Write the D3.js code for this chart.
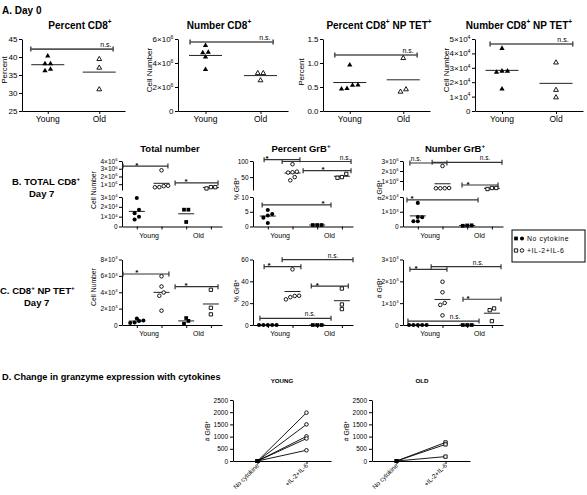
<!DOCTYPE html>
<html><head><meta charset="utf-8">
<script src="https://cdn.jsdelivr.net/npm/d3@7"></script>
<style>body{margin:0;background:#fff}svg{display:block}</style>
</head><body><svg id="c" width="587" height="495"></svg>
<script>
// ---------------- DATA ----------------
const agesA = ["Young", "Old"];
const groupsBC = ["Young", "Young", "Old", "Old"];
const conditions = ["No cytokine", "+IL-2+IL-6"];

// Panel A (Day 0): [young, old]
const pctCD8Day0 = [[40.3, 38.1, 38.1, 36.6, 36.2], [39.4, 37.0, 31.0]];
const numCD8Day0 = [[5.45e6, 4.85e6, 4.9e6, 4.5e6, 3.45e6], [3.15e6, 3.15e6, 2.55e6]];
const pctTetDay0 = [[0.96, 0.535, 0.46, 0.47, 0.54], [1.10, 0.40, 0.45]];
const numTetDay0 = [[4.35e4, 2.77e4, 2.69e4, 2.77e4, 1.53e4], [3.36e4, 1.46e4, 0.94e4]];

// Panels B, C (Day 7): [young none, young IL, old none, old IL]
const totalNumB = [[2.9e4, 1.71e4, 1.36e4, 1.0e4, 0.72e4], [2.8e6, 0.75e6, 0.62e6, 0.6e6, 0.8e6], [1.71e4, 1.71e4, 0.46e4], [0.62e6, 0.45e6, 0.62e6]];
const pctGrbB = [[5.6, 4.2, 3.7, 3.0, 1.2], [90, 64, 65, 67, 50, 40], [0.5, 0.5, 0.5], [60, 48, 50]];
const numGrbB = [[1.6e3, 0.63e3, 0.36e3, 0.36e3, 0.65e3], [2.5e6, 0.27e6, 0.27e6, 0.28e6, 0.3e6], [70, 50, 80], [0.3e6, 0.2e6, 0.3e6]];
const numTetC = [[0.8e3, 0.55e3, 0.3e3, 0.25e3, 0.5e3], [5.95e3, 4.7e3, 3.97e3, 3.57e3, 1.75e3], [0.85e3, 0.5e3, 0.15e3], [4.3e3, 2.1e3, 1.3e3]];
const pctGrbC = [[0, 0, 0, 0, 0], [51, 23.5, 25.5, 26.6, 26.8], [0, 0, 0], [33.4, 14.6, 18.8]];
const numGrbC = [[0, 0, 0, 0, 0], [1.98e3, 1.5e3, 1.01e3, 0.92e3, 0.44e3], [0, 0, 0], [0.76e3, 0.68e3, 0.18e3]];

// Panel D (paired, # GrB+)
const youngNoCyt = [0, 0, 0, 0, 0];
const youngIL = [1980, 1500, 1010, 920, 440];
const oldNoCyt = [0, 0, 0];
const oldIL = [760, 680, 180];

// Tick values
const ticksA1 = [25, 30, 35, 40, 45];
const ticksA2 = [0, 2e6, 4e6, 6e6];
const ticksA3 = [0, 0.5, 1.0, 1.5];
const ticksA4 = [0, 1e4, 2e4, 3e4, 4e4, 5e4];
const ticksB1Low = [0, 1e4, 2e4, 3e4], ticksB1Up = [1e6, 2e6, 3e6, 4e6];
const ticksB2Low = [0, 5, 10], ticksB2Up = [50, 100];
const ticksB3Low = [0, 1e3, 2e3], ticksB3Up = [1e6, 2e6, 3e6];
const ticksC1 = [0, 2e3, 4e3, 6e3, 8e3];
const ticksC2 = [0, 20, 40, 60];
const ticksC3 = [0, 1e3, 2e3, 3e3];
const ticksD = [0, 500, 1000, 1500, 2000, 2500];

// Significance brackets: [from group, to group, level (data units), label, label at group]
const sigA1 = [[-0.33, 1.27, 42.2, "n.s.", 1.13]];
const sigA2 = [[-0.28, 1.23, 5.75e6, "n.s.", 1.08]];
const sigA3 = [[-0.28, 1.26, 1.167, "n.s.", 1.09]];
const sigA4 = [[-0.22, 1.31, 4.65e4, "n.s.", 1.13]];
const sigB1 = [[-0.56, 1.26, 3.35e6, "*", 0], [1.55, 3.29, 1.16e6, "*", 1.99]];
const sigB2 = [[-0.15, 1.30, 104, "*", -0.03], [0.58, 3.37, 98.4, "n.s.", 3.13], [1.43, 3.37, 69.9, "*", 2.24], [-0.23, 2.56, 7.3, "*", 2.24]];
const sigB3 = [[-0.32, 1.18, 2.8e6, "n.s.", -0.07], [0.58, 3.41, 2.87e6, "n.s.", 2.72], [1.79, 3.25, 0.6e6, "*", 2.03], [-0.44, 2.44, 1.8e3, "*", -0.23]];
const sigC1 = [[-0.56, 1.30, 6.23e3, "*", 0], [1.55, 3.29, 4.68e3, "*", 1.99]];
const sigC2 = [[-0.15, 1.34, 53.4, "*", 0.05], [0.58, 3.45, 59.8, "n.s.", 2.64], [1.76, 3.26, 35.7, "*", 2.0], [-0.32, 2.56, 6.1, "n.s.", 1.71]];
const sigC3 = [[-0.32, 1.18, 2.55e3, "*", -0.07], [0.54, 3.37, 2.67e3, "n.s.", 2.44], [1.83, 3.37, 1.18e3, "*", 2.03], [-0.4, 2.48, 0.18e3, "n.s.", 1.51]];

// ---------------- DRAWING ----------------
const FONT = "'Liberation Sans', Arial, Helvetica, sans-serif";
const svg = d3.select("#c").attr("font-family", FONT);

function rich(sel, str, size) {
  const re = /\^(\{[^}]*\}|.)/g;
  let last = 0, m; const pieces = [];
  while ((m = re.exec(str))) {
    if (m.index > last) pieces.push({t: str.slice(last, m.index), sup: false});
    let t = m[1]; if (t[0] === "{") t = t.slice(1, -1);
    pieces.push({t, sup: true});
    last = re.lastIndex;
  }
  if (last < str.length) pieces.push({t: str.slice(last), sup: false});
  let shifted = false;
  pieces.forEach(p => {
    const ts = sel.append("tspan").text(p.t);
    if (p.sup) {
      ts.attr("font-size", size * 0.65);
      if (!shifted) { ts.attr("dy", -size * 0.42); shifted = true; }
    } else if (shifted) { ts.attr("dy", size * 0.42); shifted = false; }
  });
  return sel;
}
function text(g, x, y, str, size, opts = {}) {
  const t = g.append("text").attr("x", x).attr("y", y).attr("font-size", size)
    .attr("text-anchor", opts.anchor || "start").attr("font-weight", opts.bold ? "bold" : null)
    .attr("letter-spacing", opts.ls || null).attr("fill", "#000");
  return rich(t, str, size);
}
function vlabel(g, x, y, str, size) {
  const t = g.append("text").attr("transform", `translate(${x},${y}) rotate(-90)`)
    .attr("text-anchor", "middle").attr("dy", "0.35em").attr("font-size", size);
  return rich(t, str, size);
}
function sci(v) {
  if (v === 0) return "0";
  const e = Math.floor(Math.log10(v) + 1e-9);
  const mant = Math.round(v / Math.pow(10, e) * 10) / 10;
  return `${mant}×10^${e}`;
}
const plain = v => String(v);
const dec1 = v => v.toFixed(1);

function styleAxis(ag, size) {
  ag.attr("font-family", FONT).attr("font-size", size);
  ag.select(".domain").attr("stroke", "#000").attr("stroke-width", 1);
  ag.selectAll(".tick line").attr("stroke", "#000");
  ag.selectAll(".tick text").attr("fill", "#000");
}

const MARK = {
  triFilled: {type: d3.symbolTriangle, size: 12, fill: "#000", stroke: "none"},
  triOpen: {type: d3.symbolTriangle, size: 10, fill: "#fff", stroke: "#000"},
  circFilled: {type: d3.symbolCircle, size: 13, fill: "#000", stroke: "none"},
  circOpen: {type: d3.symbolCircle, size: 10, fill: "#fff", stroke: "#000"},
  sqFilled: {type: d3.symbolSquare, size: 14, fill: "#000", stroke: "none"},
  sqOpen: {type: d3.symbolSquare, size: 11, fill: "#fff", stroke: "#000"}
};
function drawMark(g, x, y, kind) {
  const m = MARK[kind];
  g.append("path").attr("d", d3.symbol().type(m.type).size(m.size)())
    .attr("transform", `translate(${x},${y})`)
    .attr("fill", m.fill).attr("stroke", m.stroke).attr("stroke-width", 0.9);
}

function spread(vals, yMap, d, thr) {
  const idx = vals.map((v, i) => i).sort((a, b) => vals[a] - vals[b]);
  const out = new Array(vals.length);
  let row = [];
  const flush = () => { row.forEach((i, k) => out[i] = (k - (row.length - 1) / 2) * d); row = []; };
  idx.forEach(i => {
    if (row.length && Math.abs(yMap(vals[i]) - yMap(vals[row[0]])) >= thr) flush();
    row.push(i);
  });
  flush();
  return out;
}

function dotPlot(o) {
  const g = svg.append("g");
  const x = d3.scaleLinear().domain(o.xDomain).range(o.xRange);
  const segs = o.segments.map(s => Object.assign({}, s, {scale: d3.scaleLinear().domain(s.domain).range(s.range)}));
  const yMap = v => (segs.length > 1 && v > segs[0].domain[1] ? segs[1] : segs[0]).scale(v);
  segs.forEach(s => {
    const ag = g.append("g").attr("transform", `translate(${o.xRange[0]},0)`)
      .call(d3.axisLeft(s.scale).tickValues(s.ticks).tickSize(3).tickSizeOuter(0).tickPadding(1.5));
    styleAxis(ag, o.tickFont);
    ag.selectAll(".tick text").each(function(d) { const t = d3.select(this); t.text(null); rich(t, s.fmt(d), o.tickFont); });
  });
  const bottom = segs[0].range[0];
  const xa = g.append("g").attr("transform", `translate(0,${bottom})`)
    .call(d3.axisBottom(x).tickValues(o.data.map((_, i) => i)).tickSize(3).tickSizeOuter(0).tickFormat(""));
  styleAxis(xa, o.tickFont);
  o.catLabels.forEach(c => text(g, x(c.at), o.catY, c.text, o.catFont, {anchor: "middle"}));
  vlabel(g, o.yLabel[1], o.yLabel[2], o.yLabel[0], o.yLabelFont);
  if (o.title) text(g, o.title[1], o.title[2], o.title[0], o.titleFont, {anchor: "middle", bold: true});
  o.sig.forEach(([a, b, lv, lab, at]) => {
    const y = yMap(lv), x1 = x(a), x2 = x(b);
    const p = d3.path();
    p.moveTo(x1, y - 2.5); p.lineTo(x1, y + 2.5);
    p.moveTo(x1, y); p.lineTo(x2, y);
    p.moveTo(x2, y - 2.5); p.lineTo(x2, y + 2.5);
    g.append("path").attr("d", p.toString()).attr("stroke", o.sigColor).attr("stroke-width", o.sigWidth).attr("fill", "none");
    const isStar = lab === "*";
    g.append("text").attr("x", x(at)).attr("y", isStar ? y + o.starDy : y - 2).attr("text-anchor", "middle")
      .attr("font-size", isStar ? o.starFont : o.nsFont).attr("font-weight", isStar ? "bold" : null).text(lab);
  });
  o.data.forEach((vals, i) => {
    const m = d3.mean(vals), y = yMap(m);
    g.append("line").attr("x1", x(i) - o.meanHalf).attr("x2", x(i) + o.meanHalf)
      .attr("y1", y).attr("y2", y).attr("stroke", "#222").attr("stroke-width", 1);
  });
  o.data.forEach((vals, i) => {
    const dx = spread(vals, yMap, o.jitter, 4);
    vals.forEach((v, k) => drawMark(g, x(i) + dx[k], yMap(v), o.marks[i]));
  });
}

// ---- Panel A ----
text(svg, 2, 14, "A. Day 0", 10, {bold: true});
const aCommon = {
  xDomain: [-0.5, 1.5], tickFont: 8, catFont: 8.5, catY: 122, yLabelFont: 8, titleFont: 10,
  marks: ["triFilled", "triOpen"], meanHalf: 16.5, jitter: 5.5,
  sigColor: "#555", sigWidth: 1.6, nsFont: 7, starFont: 9, starDy: 0,
  catLabels: [{text: agesA[0], at: 0}, {text: agesA[1], at: 1}]
};
dotPlot(Object.assign({}, aCommon, {
  xRange: [22, 125], segments: [{domain: [25, 45], range: [111, 39], ticks: ticksA1, fmt: plain}],
  data: pctCD8Day0, yLabel: ["Percent", 4, 70], title: ["Percent CD8^+", 80, 28.5], sig: sigA1
}));
dotPlot(Object.assign({}, aCommon, {
  xRange: [178, 288], segments: [{domain: [0, 6e6], range: [111, 39], ticks: ticksA2, fmt: sci}],
  data: numCD8Day0, yLabel: ["Cell Number", 149, 70], title: ["Number CD8^+", 219, 28.5], sig: sigA2
}));
dotPlot(Object.assign({}, aCommon, {
  xRange: [323, 430], segments: [{domain: [0, 1.5], range: [111, 39], ticks: ticksA3, fmt: dec1}],
  data: pctTetDay0, yLabel: ["Percent", 301, 72], title: ["Percent CD8^+ NP TET^+", 379, 28.5], sig: sigA3
}));
dotPlot(Object.assign({}, aCommon, {
  xRange: [475, 583], segments: [{domain: [0, 5e4], range: [111, 39], ticks: ticksA4, fmt: sci}],
  data: numTetDay0, yLabel: ["Cell Number", 446, 70], title: ["Number CD8^+ NP TET^+", 519, 28.5], sig: sigA4
}));

// ---- Panels B, C ----
const bcCommon = {
  xDomain: [-0.6, 3.45], tickFont: 6.5, catFont: 7, yLabelFont: 6.8, titleFont: 9.5,
  marks: ["circFilled", "circOpen", "sqFilled", "sqOpen"], meanHalf: 8, jitter: 4.4,
  sigColor: "#333", sigWidth: 1.2, nsFont: 6.5, starFont: 8, starDy: 1.5,
  catLabels: [{text: groupsBC[0], at: 0.5}, {text: groupsBC[2], at: 2.5}]
};
text(svg, 12, 185, "B. TOTAL CD8^+", 9.5, {bold: true});
text(svg, 29, 197, "Day 7", 9.5, {bold: true});
dotPlot(Object.assign({}, bcCommon, {
  xRange: [122, 222], catY: 237.5,
  segments: [{domain: [0, 3e4], range: [226.5, 197], ticks: ticksB1Low, fmt: sci},
             {domain: [0.25e6, 4e6], range: [190, 161], ticks: ticksB1Up, fmt: sci}],
  data: totalNumB, yLabel: ["Cell Number", 94, 190], title: ["Total number", 170, 151.5], sig: sigB1
}));
dotPlot(Object.assign({}, bcCommon, {
  xRange: [253, 353], catY: 237.5,
  segments: [{domain: [0, 10], range: [226.5, 197], ticks: ticksB2Low, fmt: plain},
             {domain: [10, 100], range: [190, 161], ticks: ticksB2Up, fmt: plain}],
  data: pctGrbB, yLabel: ["% GrB^+", 237, 189], title: ["Percent GrB^+", 301, 151.5], sig: sigB2
}));
dotPlot(Object.assign({}, bcCommon, {
  xRange: [403, 503], catY: 237.5,
  segments: [{domain: [0, 2e3], range: [226.5, 197], ticks: ticksB3Low, fmt: sci},
             {domain: [0.1e6, 3e6], range: [190, 161], ticks: ticksB3Up, fmt: sci}],
  data: numGrbB, yLabel: ["# GrB^+", 380, 190], title: ["Number GrB^+", 455, 151.5], sig: sigB3
}));

text(svg, 0, 294, "C. CD8^+ NP TET^+", 9.5, {bold: true});
text(svg, 24, 306, "Day 7", 9.5, {bold: true});
dotPlot(Object.assign({}, bcCommon, {
  xRange: [122, 222], catY: 335.5,
  segments: [{domain: [0, 8e3], range: [325, 259.5], ticks: ticksC1, fmt: sci}],
  data: numTetC, yLabel: ["Cell Number", 94, 287], sig: sigC1
}));
dotPlot(Object.assign({}, bcCommon, {
  xRange: [253, 353], catY: 335.5,
  segments: [{domain: [0, 60], range: [325, 259.5], ticks: ticksC2, fmt: plain}],
  data: pctGrbC, yLabel: ["% GrB^+", 237, 291], sig: sigC2
}));
dotPlot(Object.assign({}, bcCommon, {
  xRange: [403, 503], catY: 335.5,
  segments: [{domain: [0, 3e3], range: [325, 259.5], ticks: ticksC3, fmt: sci}],
  data: numGrbC, yLabel: ["# GrB^+", 380, 288], sig: sigC3
}));

// ---- Legend ----
{
  const g = svg.append("g");
  g.append("rect").attr("x", 512).attr("y", 230).attr("width", 73).attr("height", 32)
    .attr("fill", "#fff").attr("stroke", "#000").attr("stroke-width", 1);
  drawMark(g, 516, 238.5, "sqFilled"); drawMark(g, 522, 238.5, "circFilled");
  text(g, 527, 241, conditions[0], 6.8, {ls: 0.6});
  drawMark(g, 516, 250.5, "sqOpen"); drawMark(g, 522, 250.5, "circOpen");
  text(g, 527, 253, conditions[1], 6.8, {ls: 0.6});
}

// ---- Panel D ----
text(svg, 2, 379.5, "D. Change in granzyme expression with cytokines", 9.2, {bold: true});
function pairedPlot(o) {
  const g = svg.append("g");
  const x = d3.scaleLinear().domain([-0.5, 1.5]).range(o.xRange);
  const y = d3.scaleLinear().domain([0, 2500]).range([461, 400]);
  const ya = g.append("g").attr("transform", `translate(${o.xRange[0]},0)`)
    .call(d3.axisLeft(y).tickValues(ticksD).tickSize(3).tickSizeOuter(0).tickPadding(2).tickFormat(d3.format("d")));
  styleAxis(ya, 6.5);
  const xa = g.append("g").attr("transform", `translate(0,461)`)
    .call(d3.axisBottom(x).tickValues([0, 1]).tickSize(3).tickSizeOuter(0).tickFormat(""));
  styleAxis(xa, 6.5);
  conditions.forEach((c, i) => {
    g.append("text").attr("transform", `translate(${x(i) + 2},${466}) rotate(-45)`)
      .attr("text-anchor", "end").attr("font-size", 6.4).text(c);
  });
  vlabel(g, o.yLabelX, 431, "# GrB^+", 6.8);
  text(g, o.titleX, 383, o.title, 6.2, {anchor: "middle", bold: true});
  const line = d3.line().x(d => x(d[0])).y(d => y(d[1]));
  o.before.forEach((b, i) => {
    g.append("path").attr("d", line([[0, b], [1, o.after[i]]])).attr("stroke", "#000").attr("stroke-width", 0.9).attr("fill", "none");
  });
  o.before.forEach(b => drawMark(g, x(0), y(b), "sqFilled"));
  o.after.forEach(a => drawMark(g, x(1), y(a), o.endMark));
}
pairedPlot({xRange: [233, 331], before: youngNoCyt, after: youngIL, endMark: "circOpen", yLabelX: 208, titleX: 282, title: "YOUNG"});
pairedPlot({xRange: [372, 470], before: oldNoCyt, after: oldIL, endMark: "sqOpen", yLabelX: 347, titleX: 422, title: "OLD"});
</script>
</body></html>
